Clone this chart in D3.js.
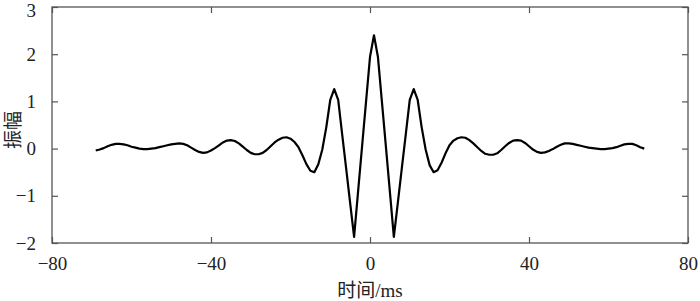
<!DOCTYPE html>
<html>
<head>
<meta charset="utf-8">
<script src="https://cdn.jsdelivr.net/npm/d3@7"></script>
<style>
  body { margin: 0; background: #fff; }
</style>
</head>
<body>
<div id="chart"></div>
<script>
// sample times (ms), one per millisecond
var times = d3.range(-69, 70);

// amplitude, t = -69 .. 69
var amp = [
  -0.04, -0.02, 0.01, 0.05, 0.08, 0.10, 0.10, 0.09, 0.07, 0.04,   // -69..-60
   0.02, 0.00, -0.01, -0.01, 0.00, 0.01, 0.03, 0.05, 0.07, 0.09,  // -59..-50
   0.10, 0.11, 0.10, 0.07, 0.02, -0.03, -0.07, -0.09, -0.08, -0.04, // -49..-40
   0.01, 0.07, 0.13, 0.17, 0.18, 0.16, 0.11, 0.04, -0.03, -0.09,  // -39..-30
  -0.12, -0.12, -0.09, -0.03, 0.05, 0.13, 0.19, 0.23, 0.24, 0.21, // -29..-20
   0.14, 0.03, -0.14, -0.33, -0.47, -0.50, -0.33, -0.02, 0.45, 1.03, // -19..-10
   1.26, 1.03, 0.30, -0.42, -1.15, -1.87, -0.91, 0.04, 0.99, 1.94, // -9..0
   2.40, 1.94, 0.99, 0.04, -0.91, -1.87, -1.15, -0.42, 0.30, 1.03, // 1..10
   1.26, 1.03, 0.45, -0.02, -0.35, -0.50, -0.46, -0.30, -0.10, 0.07, // 11..20
   0.17, 0.22, 0.24, 0.23, 0.18, 0.11, 0.03, -0.05, -0.11, -0.13, // 21..30
  -0.13, -0.10, -0.03, 0.05, 0.12, 0.17, 0.18, 0.17, 0.12, 0.05,  // 31..40
  -0.02, -0.07, -0.09, -0.08, -0.05, -0.01, 0.04, 0.08, 0.11, 0.11, // 41..50
   0.10, 0.08, 0.06, 0.04, 0.02, 0.01, 0.00, -0.01, -0.01, 0.00,  // 51..60
   0.01, 0.03, 0.06, 0.09, 0.10, 0.10, 0.07, 0.03, 0.00           // 61..69
];

var xTicks = [-80, -40, 0, 40, 80];
var yTicks = [-2, -1, 0, 1, 2, 3];
var xTitle = "时间/ms";
var yTitle = "振幅";

var W = 700, H = 301;
var margin = {top: 7, right: 12, bottom: 58, left: 52};
var serif = "'Liberation Serif', 'DejaVu Serif', serif";
var cjk = "'Liberation Serif', 'Noto Sans CJK SC', serif";

var svg = d3.select("#chart").append("svg").attr("width", W).attr("height", H);

var x = d3.scaleLinear().domain([-80, 80]).range([margin.left, W - margin.right]);
var y = d3.scaleLinear().domain([-2, 3]).range([H - margin.bottom, margin.top]);

var frameColor = "#555";
var tickLen = 6;

function styleAxis(g) {
  g.attr("font-family", serif).attr("font-size", 19);
  g.select(".domain").remove();
  g.selectAll(".tick line").attr("stroke", frameColor).attr("stroke-width", 1.2);
  g.selectAll(".tick text").attr("fill", "#222")
    .style("font-family", serif).style("font-size", "19px");
}

var fmt = function (d) { return d < 0 ? "\u2212" + Math.abs(d) : d; };

// bottom
svg.append("g").attr("transform", "translate(0," + y(-2) + ")")
  .call(d3.axisBottom(x).tickValues(xTicks).tickSizeInner(-tickLen).tickSizeOuter(0).tickPadding(14).tickFormat(fmt))
  .call(styleAxis);
// top
svg.append("g").attr("transform", "translate(0," + y(3) + ")")
  .call(d3.axisTop(x).tickValues(xTicks).tickSizeInner(-tickLen).tickSizeOuter(0).tickFormat(""))
  .call(styleAxis);
// left
svg.append("g").attr("transform", "translate(" + x(-80) + ",0)")
  .call(d3.axisLeft(y).tickValues(yTicks).tickSizeInner(-tickLen).tickSizeOuter(0).tickPadding(16).tickFormat(fmt))
  .call(styleAxis);
// right
svg.append("g").attr("transform", "translate(" + x(80) + ",0)")
  .call(d3.axisRight(y).tickValues(yTicks).tickSizeInner(-tickLen).tickSizeOuter(0).tickFormat(""))
  .call(styleAxis);

// keep the top label inside the page
svg.selectAll(".tick text").filter(function (d) { return d === 3; }).attr("dy", "0.5em");

// frame
svg.append("rect")
  .attr("x", x(-80)).attr("y", y(3))
  .attr("width", x(80) - x(-80)).attr("height", y(-2) - y(3))
  .attr("fill", "none").attr("stroke", frameColor).attr("stroke-width", 1.3);

var line = d3.line()
  .x(function (d, i) { return x(times[i]); })
  .y(function (d) { return y(d); });

svg.append("path")
  .datum(amp)
  .attr("d", line)
  .attr("fill", "none")
  .attr("stroke", "#000")
  .attr("stroke-width", 2.2)
  .attr("stroke-linejoin", "round");

svg.append("text")
  .attr("x", x(0)).attr("y", 297)
  .attr("text-anchor", "middle")
  .style("font-family", cjk).style("font-size", "19px").attr("fill", "#222")
  .text(xTitle);

svg.append("text")
  .attr("transform", "translate(20," + 130 + ") rotate(-90)")
  .attr("text-anchor", "middle")
  .style("font-family", cjk).style("font-size", "19px").attr("fill", "#222")
  .text(yTitle);
</script>
</body>
</html>
